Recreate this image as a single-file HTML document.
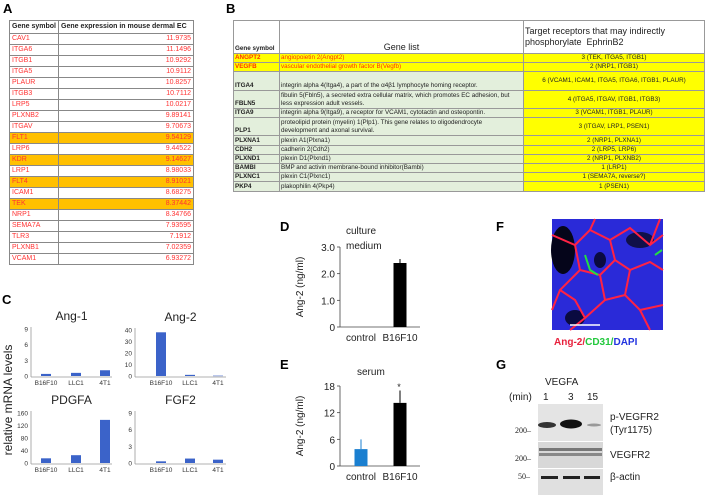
<!DOCTYPE html>
<html><head><meta charset="utf-8">
<style>
body{margin:0;width:709px;height:496px;background:#fff;position:relative;overflow:hidden;font-family:"Liberation Sans",sans-serif}
.abs{position:absolute}
.lbl{position:absolute;font-weight:bold;font-size:13px}
table{border-collapse:collapse;position:absolute;table-layout:fixed}
#ta td{border:1px solid #888;font-size:7px;color:#f33;padding:0 2px;height:10px;line-height:10px;white-space:nowrap;overflow:hidden}
#ta td.v{text-align:right}
#ta tr.h td{color:#222;font-weight:bold;height:12px}
#ta tr.o td{background:#ffc000}
#tb td{border:1px solid #999;font-size:6.3px;color:#222;padding:0 1px;white-space:nowrap;overflow:hidden;line-height:8px;vertical-align:bottom}
#tb td.g{background:#e3efdc}
#tb td.y{background:#ffff00;text-align:center;vertical-align:middle}
#tb tr.r td.s,#tb tr.r td.n{color:#f30;background:#ffff00}
</style></head><body>
<div class="lbl" style="left:3px;top:1px">A</div>
<div class="lbl" style="left:226px;top:1px">B</div>
<div class="lbl" style="left:2px;top:292px">C</div>
<div class="lbl" style="left:280px;top:219px">D</div>
<div class="lbl" style="left:280px;top:357px">E</div>
<div class="lbl" style="left:496px;top:219px">F</div>
<div class="lbl" style="left:496px;top:357px">G</div>

<table id="ta" style="left:9px;top:20px;width:184px">
<colgroup><col style="width:49px"><col style="width:135px"></colgroup>
<tr class="h"><td>Gene symbol</td><td>Gene expression in mouse dermal EC</td></tr>
<tr><td>CAV1</td><td class="v">11.9735</td></tr>
<tr><td>ITGA6</td><td class="v">11.1496</td></tr>
<tr><td>ITGB1</td><td class="v">10.9292</td></tr>
<tr><td>ITGA5</td><td class="v">10.9112</td></tr>
<tr><td>PLAUR</td><td class="v">10.8257</td></tr>
<tr><td>ITGB3</td><td class="v">10.7112</td></tr>
<tr><td>LRP5</td><td class="v">10.0217</td></tr>
<tr><td>PLXNB2</td><td class="v">9.89141</td></tr>
<tr><td>ITGAV</td><td class="v">9.70673</td></tr>
<tr class="o"><td>FLT1</td><td class="v">9.54129</td></tr>
<tr><td>LRP6</td><td class="v">9.44522</td></tr>
<tr class="o"><td>KDR</td><td class="v">9.14627</td></tr>
<tr><td>LRP1</td><td class="v">8.98033</td></tr>
<tr class="o"><td>FLT4</td><td class="v">8.91021</td></tr>
<tr><td>ICAM1</td><td class="v">8.68275</td></tr>
<tr class="o"><td>TEK</td><td class="v">8.37442</td></tr>
<tr><td>NRP1</td><td class="v">8.34766</td></tr>
<tr><td>SEMA7A</td><td class="v">7.93595</td></tr>
<tr><td>TLR3</td><td class="v">7.1912</td></tr>
<tr><td>PLXNB1</td><td class="v">7.02359</td></tr>
<tr><td>VCAM1</td><td class="v">6.93272</td></tr>
</table>

<table id="tb" style="left:233px;top:20px;width:471px">
<colgroup><col style="width:46px"><col style="width:244px"><col style="width:181px"></colgroup>
<tr style="height:33px"><td style="font-weight:bold;background:#fff">Gene symbol</td><td style="background:#fff;text-align:center;font-size:9px;line-height:11px">Gene list</td><td style="background:#fff;font-size:9px;line-height:11px;vertical-align:middle">Target receptors that may indirectly<br>phosphorylate &nbsp;EphrinB2</td></tr>
<tr class="r" style="height:9px"><td class="s" style="font-weight:bold">ANGPT2</td><td class="n">angiopoietin 2(Angpt2)</td><td class="y">3 (TEK, ITGA5, ITGB1)</td></tr>
<tr class="r" style="height:9px"><td class="s" style="font-weight:bold">VEGFB</td><td class="n">vascular endothelial growth factor B(Vegfb)</td><td class="y">2 (NRP1, ITGB1)</td></tr>
<tr style="height:19px"><td class="g" style="font-weight:bold">ITGA4</td><td class="g">integrin alpha 4(Itga4), a part of the α4β1 lymphocyte homing receptor.</td><td class="y">6 (VCAM1, ICAM1, ITGA5, ITGA6, ITGB1, PLAUR)</td></tr>
<tr style="height:18px"><td class="g" style="font-weight:bold">FBLN5</td><td class="g">fibulin 5(Fbln5), a secreted extra cellular matrix, which promotes EC adhesion, but<br>less expression adult vessels.</td><td class="y">4 (ITGA5, ITGAV, ITGB1, ITGB3)</td></tr>
<tr style="height:9px"><td class="g" style="font-weight:bold">ITGA9</td><td class="g">integrin alpha 9(Itga9), a receptor for VCAM1, cytotactin and osteopontin.</td><td class="y">3 (VCAM1, ITGB1, PLAUR)</td></tr>
<tr style="height:18px"><td class="g" style="font-weight:bold">PLP1</td><td class="g">proteolipid protein (myelin) 1(Plp1). This gene relates to oligodendrocyte<br>development and axonal survival.</td><td class="y">3 (ITGAV, LRP1, PSEN1)</td></tr>
<tr style="height:10px"><td class="g" style="font-weight:bold">PLXNA1</td><td class="g">plexin A1(Plxna1)</td><td class="y">2 (NRP1, PLXNA1)</td></tr>
<tr style="height:9px"><td class="g" style="font-weight:bold">CDH2</td><td class="g">cadherin 2(Cdh2)</td><td class="y">2 (LRP5, LRP6)</td></tr>
<tr style="height:9px"><td class="g" style="font-weight:bold">PLXND1</td><td class="g">plexin D1(Plxnd1)</td><td class="y">2 (NRP1, PLXNB2)</td></tr>
<tr style="height:9px"><td class="g" style="font-weight:bold">BAMBI</td><td class="g">BMP and activin membrane-bound inhibitor(Bambi)</td><td class="y">1 (LRP1)</td></tr>
<tr style="height:9px"><td class="g" style="font-weight:bold">PLXNC1</td><td class="g">plexin C1(Plxnc1)</td><td class="y">1 (SEMA7A, reverse?)</td></tr>
<tr style="height:10px"><td class="g" style="font-weight:bold">PKP4</td><td class="g">plakophilin 4(Pkp4)</td><td class="y">1 (PSEN1)</td></tr>
</table>

<svg id="charts" class="abs" style="left:0;top:0" width="709" height="496" font-family="Liberation Sans, sans-serif">
<text x="12" y="400" font-size="12" text-anchor="middle" transform="rotate(-90 12 400)" fill="#222">relative mRNA levels</text>
<text x="346" y="234" font-size="10" fill="#222">culture</text>
<text x="346" y="249" font-size="10" fill="#222">medium</text>
<text x="357" y="375" font-size="10" fill="#222">serum</text>
<text x="303" y="287" font-size="10" text-anchor="middle" transform="rotate(-90 303 287)" fill="#222">Ang-2 (ng/ml)</text>
<text x="303" y="426" font-size="10" text-anchor="middle" transform="rotate(-90 303 426)" fill="#222">Ang-2 (ng/ml)</text>
<text x="399" y="390" font-size="9" text-anchor="middle" fill="#222">*</text>
<g>
<rect x="552" y="219" width="111" height="111" fill="#2a2ad8"/>
<ellipse cx="563" cy="250" rx="12" ry="24" fill="#05051a"/>
<ellipse cx="575" cy="318" rx="10" ry="8" fill="#0a0a40"/>
<ellipse cx="640" cy="240" rx="14" ry="8" fill="#10104a"/>
<ellipse cx="600" cy="260" rx="6" ry="8" fill="#0a0a40"/>
<path d="M552 235 L575 245 L590 230 L610 240 L630 228 L650 245 L663 235 M575 245 L580 270 L560 290 L552 310 M580 270 L600 275 L615 260 L630 270 L650 262 L663 270 M600 275 L605 300 L585 318 L570 330 M605 300 L625 295 L640 310 L663 305 M630 270 L625 295 M615 260 L610 240 M640 310 L650 330 M590 230 L595 219 M650 245 L660 219 M560 290 L575 300 L585 318" stroke="#ff2244" stroke-width="2" fill="none"/>
<path d="M585 255 L590 270 L598 275 M655 255 L662 250" stroke="#22dd44" stroke-width="2" fill="none"/>
<line x1="570" y1="325" x2="600" y2="325" stroke="#fff" stroke-width="1.5"/>
</g>
<text x="554" y="345" font-size="10" font-weight="bold"><tspan fill="#e8203c">Ang-2/</tspan><tspan fill="#22c83c">CD31/</tspan><tspan fill="#2233e0">DAPI</tspan></text>
<g fill="#222">
<text x="545" y="385" font-size="10">VEGFA</text>
<text x="509" y="400" font-size="10">(min)</text>
<text x="543" y="400" font-size="10">1</text><text x="568" y="400" font-size="10">3</text><text x="587" y="400" font-size="10">15</text>
<rect x="538" y="404" width="65" height="37" fill="#e4e4e4"/>
<rect x="538" y="442" width="65" height="26" fill="#d8d8d8"/>
<rect x="538" y="469" width="65" height="26" fill="#e0e0e0"/>
<ellipse cx="547" cy="425" rx="9" ry="3" fill="#333"/>
<ellipse cx="571" cy="424" rx="11" ry="4.5" fill="#111"/>
<ellipse cx="594" cy="425" rx="7" ry="1.5" fill="#999"/>
<rect x="539" y="448" width="63" height="3" fill="#777"/><rect x="539" y="453" width="63" height="3" fill="#888"/>
<rect x="541" y="476" width="17" height="3" fill="#222"/><rect x="563" y="476" width="17" height="3" fill="#222"/><rect x="584" y="476" width="16" height="3" fill="#222"/>
<text x="515" y="433" font-size="8" font-family="Liberation Serif, serif">200–</text>
<text x="515" y="461" font-size="8" font-family="Liberation Serif, serif">200–</text>
<text x="518" y="479" font-size="8" font-family="Liberation Serif, serif">50–</text>
<text x="610" y="420" font-size="10">p-VEGFR2</text>
<text x="610" y="433" font-size="10">(Tyr1175)</text>
<text x="610" y="458" font-size="10">VEGFR2</text>
<text x="610" y="480" font-size="10">β-actin</text>
</g>
</svg>
<script>
const cellLines = ["B16F10","LLC1","4T1"];
const ang1Values = [0.4,0.6,1.1];
const ang2Values = [38,1,0.3];
const pdgfaValues = [15,25,138];
const fgf2Values = [0.3,0.8,0.6];
const ang1Ticks = [0,3,6,9];
const ang2Ticks = [0,10,20,30,40];
const pdgfaTicks = [0,40,80,120,160];
const fgf2Ticks = [0,3,6,9];
const dCategories = ["control","B16F10"];
const dValues = [0,2.4];
const dErrors = [0,0.15];
const dTicks = [0,1.0,2.0,3.0];
const dTickLabels = ["0","1.0","2.0","3.0"];
const eCategories = ["control","B16F10"];
const eValues = [3.8,14.2];
const eErrors = [2.2,2.8];
const eTicks = [0,6,12,18];
const NS="http://www.w3.org/2000/svg";
const svg=document.getElementById('charts');
function mk(t,a){const e=document.createElementNS(NS,t);for(const k in a)e.setAttribute(k,a[k]);svg.appendChild(e);return e;}
function smallChart(title,vals,ticks,x0,x1,y0,yTop,xs){
  const max=ticks[ticks.length-1];
  const y=v=>y0-(v/max)*(y0-yTop);
  const t=mk('text',{x:(x0+x1)/2,y:yTop-9,'font-size':12,'text-anchor':'middle',fill:'#222'});t.textContent=title;
  
  
  mk('line',{x1:x0,y1:yTop-2,x2:x0,y2:y0+1,stroke:'#999','stroke-width':0.8});
  mk('line',{x1:x0,y1:y0+1,x2:x1,y2:y0+1,stroke:'#999','stroke-width':0.8});
  ticks.forEach(v=>{const l=mk('text',{x:x0-3,y:y(v)+2.5,'font-size':6.5,'text-anchor':'end',fill:'#333'});l.textContent=v;
    
    });
  vals.forEach((v,i)=>{const cx=x0+xs[i];
    const b=mk('rect',{x:cx-5,y:y(v),width:10,height:Math.max(0.5,y0-y(v)),fill:'#3b63c9'});
    
    
    const l=mk('text',{x:cx,y:y0+9,'font-size':6.5,'text-anchor':'middle',fill:'#333'});l.textContent=cellLines[i];
    
    });
}
smallChart('Ang-1',ang1Values,ang1Ticks,31,112,376,329,[15,45,74]);
smallChart('Ang-2',ang2Values,ang2Ticks,135,226,376,330,[26,55,83]);
smallChart('PDGFA',pdgfaValues,pdgfaTicks,31,112,463,413,[15,45,74]);
smallChart('FGF2',fgf2Values,fgf2Ticks,135,226,463,413,[26,55,83]);
function bigChart(cats,vals,errs,ticks,labels,y0,yTop,colors,pfx){
  const max=ticks[ticks.length-1];const x0=340,x1=420;
  const y=v=>y0-(v/max)*(y0-yTop);
  mk('line',{x1:x0,y1:yTop,x2:x0,y2:y0,stroke:'#444','stroke-width':0.8});
  mk('line',{x1:x0,y1:y0,x2:x1,y2:y0,stroke:'#444','stroke-width':0.8});
  ticks.forEach((v,i)=>{mk('line',{x1:x0-3,y1:y(v),x2:x0,y2:y(v),stroke:'#444','stroke-width':0.8});
    const l=mk('text',{x:x0-5,y:y(v)+4,'font-size':10,'text-anchor':'end',fill:'#222'});l.textContent=labels[i];
    
    });
  const xs=[361,400];
  vals.forEach((v,i)=>{const cx=xs[i];
    if(errs[i]>0)mk('line',{x1:cx,y1:y(v+errs[i]),x2:cx,y2:y(v),stroke:colors[i],'stroke-width':1});
    const b=mk('rect',{x:cx-6.5,y:y(v),width:13,height:y0-y(v),fill:colors[i]});
    
    
    const l=mk('text',{x:cx,y:y0+14,'font-size':10,'text-anchor':'middle',fill:'#222'});l.textContent=cats[i];
    
    });
}
bigChart(dCategories,dValues,dErrors,dTicks,dTickLabels,327,247,['#1a7fd0','#000'],'d');
bigChart(eCategories,eValues,eErrors,eTicks,eTicks.map(String),466,386,['#1a7fd0','#000'],'e');
</script>
</body></html>
